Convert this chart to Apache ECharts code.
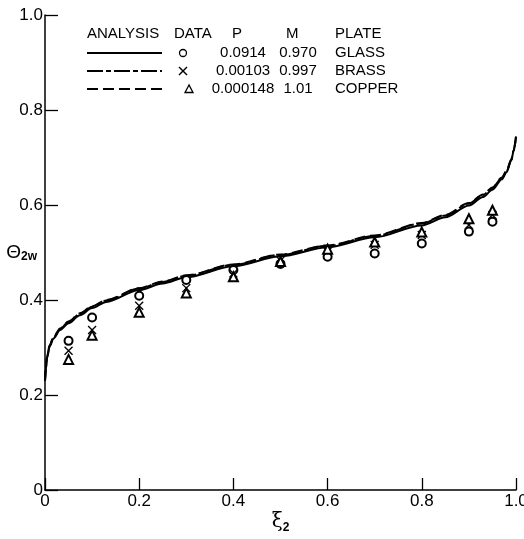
<!DOCTYPE html>
<html>
<head>
<meta charset="utf-8">
<script src="https://cdn.jsdelivr.net/npm/echarts@6/dist/echarts.min.js"></script>
<style>
  html, body { margin: 0; padding: 0; background: #fff; }
  #chart { width: 524px; height: 539px; }
</style>
</head>
<body>
<div id="chart"></div>
<script>
// analysis curves
var xCurve = [0, 0.002, 0.004, 0.01, 0.018, 0.032, 0.05, 0.074, 0.1, 0.13, 0.2, 0.25, 0.3, 0.4, 0.5, 0.6, 0.7, 0.8, 0.85, 0.9, 0.93, 0.95, 0.97, 0.98, 0.99, 0.995, 1.0];
var glassCurve = [0.23, 0.255, 0.277, 0.302, 0.319, 0.337, 0.351, 0.368, 0.383, 0.396, 0.421, 0.435, 0.448, 0.471, 0.492, 0.511, 0.532, 0.557, 0.574, 0.599, 0.617, 0.632, 0.654, 0.669, 0.694, 0.714, 0.744];
var brassCurve = [0.23, 0.256, 0.279, 0.304, 0.321, 0.339, 0.354, 0.371, 0.386, 0.399, 0.424, 0.438, 0.451, 0.474, 0.495, 0.514, 0.535, 0.561, 0.578, 0.603, 0.621, 0.636, 0.657, 0.671, 0.695, 0.714, 0.744];
var copperCurve = [0.23, 0.257, 0.280, 0.305, 0.322, 0.340, 0.355, 0.372, 0.387, 0.400, 0.425, 0.439, 0.452, 0.475, 0.496, 0.515, 0.536, 0.562, 0.579, 0.604, 0.622, 0.637, 0.658, 0.672, 0.696, 0.715, 0.744];

// measured data
var xData = [0.05, 0.1, 0.2, 0.3, 0.4, 0.5, 0.6, 0.7, 0.8, 0.9, 0.95];
var glassData = [0.314, 0.363, 0.409, 0.442, 0.463, 0.476, 0.491, 0.498, 0.519, 0.544, 0.565];
var brassData = [0.293, 0.337, 0.388, 0.425, 0.456, 0.483, 0.502, 0.516, 0.537, 0.558, 0.579];
var copperData = [0.275, 0.326, 0.374, 0.415, 0.449, 0.481, 0.507, 0.522, 0.543, 0.571, 0.589];

// legend table
var legendHeader = ['ANALYSIS', 'DATA', 'P', 'M', 'PLATE'];
var legendP = ['0.0914', '0.00103', '0.000148'];
var legendM = ['0.970', '0.997', '1.01'];
var legendPlate = ['GLASS', 'BRASS', 'COPPER'];

var FONT = '"Liberation Sans", Arial, sans-serif';

function pairs(xs, ys) {
  return xs.map(function (x, i) { return [x, ys[i]]; });
}

var crossPath = 'path://M0,0L10,10M10,0L0,10';

var myChart = echarts.init(document.getElementById('chart'));

var lineTypes = ['solid', [16, 3, 5, 3], [11, 5]];
var rowY = [53, 71, 89];
var headerX = [87, 174, 232, 286, 335];

var graphics = [];
legendHeader.forEach(function (t, i) {
  graphics.push({
    type: 'text', x: headerX[i], y: 34,
    style: { text: t, fill: '#000', font: '15px ' + FONT, textVerticalAlign: 'middle' }
  });
});
rowY.forEach(function (y, i) {
  graphics.push({
    type: 'line',
    shape: { x1: 87, y1: y, x2: 162, y2: y },
    style: { stroke: '#000', lineWidth: 2, lineDash: lineTypes[i] === 'solid' ? null : lineTypes[i] }
  });
  graphics.push({
    type: 'text', x: 243, y: y,
    style: { text: legendP[i], fill: '#000', font: '15px ' + FONT, textAlign: 'center', textVerticalAlign: 'middle' }
  });
  graphics.push({
    type: 'text', x: 298, y: y,
    style: { text: legendM[i], fill: '#000', font: '15px ' + FONT, textAlign: 'center', textVerticalAlign: 'middle' }
  });
  graphics.push({
    type: 'text', x: 335, y: y,
    style: { text: legendPlate[i], fill: '#000', font: '15px ' + FONT, textAlign: 'left', textVerticalAlign: 'middle' }
  });
});
graphics.push({
  type: 'circle', shape: { cx: 183, cy: rowY[0], r: 3.5 },
  style: { fill: 'none', stroke: '#000', lineWidth: 1.3 }
});
graphics.push({
  type: 'group', children: [
    { type: 'line', shape: { x1: 179, y1: rowY[1] - 4, x2: 187, y2: rowY[1] + 4 }, style: { stroke: '#000', lineWidth: 1.5 } },
    { type: 'line', shape: { x1: 187, y1: rowY[1] - 4, x2: 179, y2: rowY[1] + 4 }, style: { stroke: '#000', lineWidth: 1.5 } }
  ]
});
graphics.push({
  type: 'polygon', shape: { points: [[189, rowY[2] - 4], [185, rowY[2] + 3.5], [193, rowY[2] + 3.5]] },
  style: { fill: 'none', stroke: '#000', lineWidth: 1.3 }
});

function curveSeries(name, data, type) {
  return {
    name: name, type: 'line', data: pairs(xCurve, data),
    showSymbol: false, smooth: 0.3, smoothMonotone: 'x',
    lineStyle: { color: '#000', width: 2, type: type },
    silent: true, z: 3
  };
}

function dataSeries(name, data, symbol, size) {
  return {
    name: name, type: 'scatter', data: pairs(xData, data),
    symbol: symbol, symbolSize: size,
    itemStyle: { color: '#000', borderColor: '#000', borderWidth: 1.3, opacity: 1 },
    z: 4
  };
}

var option = {
  animation: false,
  backgroundColor: '#fff',
  textStyle: { fontFamily: FONT },
  grid: { left: 45, right: 8, top: 15, bottom: 49, containLabel: false, outerBoundsMode: 'none' },
  xAxis: {
    type: 'value', min: 0, max: 1, interval: 0.2,
    name: '{a|ξ}{b|2}', nameLocation: 'middle', nameGap: 20, nameMoveOverlap: false,
    nameTextStyle: {
      rich: {
        a: { fontSize: 20, color: '#000', fontFamily: 'DejaVu Serif' },
        b: { fontSize: 12, color: '#000', fontWeight: 'bold', padding: [12, 0, 0, 0] }
      }
    },
    axisLine: { lineStyle: { color: '#000', width: 1.5 } },
    axisTick: { inside: true, length: 12, lineStyle: { color: '#000', width: 1.3 } },
    axisLabel: {
      color: '#000', fontSize: 17, margin: 3, fontFamily: FONT,
      formatter: function (v) { return v === 0 ? '0' : v.toFixed(1); }
    },
    splitLine: { show: false }
  },
  yAxis: {
    type: 'value', min: 0, max: 1, interval: 0.2,
    name: '{a|Θ}{b|2w}', nameLocation: 'middle', nameRotate: 0, nameGap: 8, nameMoveOverlap: false,
    nameTextStyle: {
      rich: {
        a: { fontSize: 19, color: '#000', fontFamily: FONT },
        b: { fontSize: 12, color: '#000', fontWeight: 'bold', padding: [8, 0, 0, 0] }
      }
    },
    axisLine: { lineStyle: { color: '#000', width: 1.5 } },
    axisTick: { inside: true, length: 13, lineStyle: { color: '#000', width: 1.3 } },
    axisLabel: {
      color: '#000', fontSize: 17, margin: 2, fontFamily: FONT,
      formatter: function (v) { return v === 0 ? '0' : v.toFixed(1); }
    },
    splitLine: { show: false }
  },
  series: [
    curveSeries('GLASS analysis', glassCurve, 'solid'),
    curveSeries('BRASS analysis', brassCurve, [16, 3, 5, 3]),
    curveSeries('COPPER analysis', copperCurve, [11, 5]),
    dataSeries('GLASS', glassData, 'emptyCircle', 8),
    dataSeries('BRASS', brassData, crossPath, 8),
    dataSeries('COPPER', copperData, 'emptyTriangle', 9)
  ],
  graphic: graphics
};

myChart.setOption(option);
</script>
</body>
</html>
